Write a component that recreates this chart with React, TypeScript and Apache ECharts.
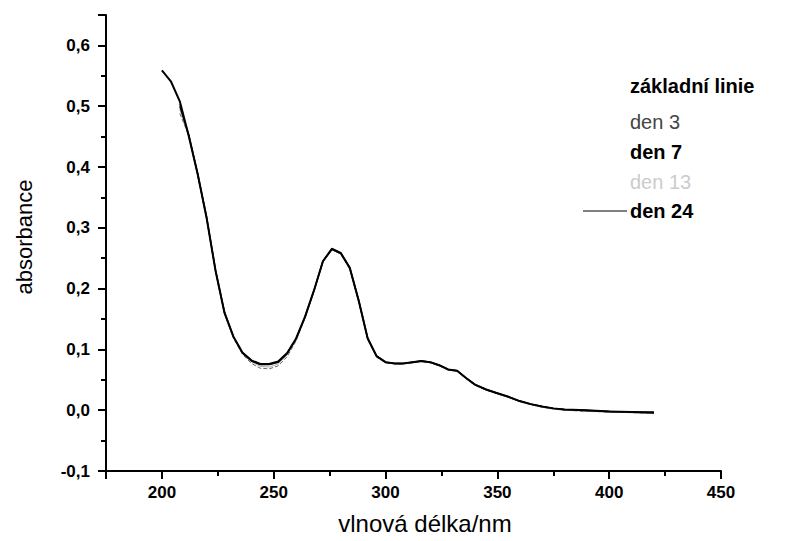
import React, { useEffect, useRef } from "react";
import * as echarts from "echarts";

const wavelengths = [200, 204, 208, 212, 216, 220, 224, 228, 232, 236, 240, 244, 248, 252, 256, 260, 264, 268, 272, 276, 280, 284, 288, 292, 296, 300, 304, 308, 312, 316, 320, 324, 328, 332, 336, 340, 345, 350, 355, 360, 365, 370, 375, 380, 390, 400, 410, 420];

const zakladniLinie = [0.559, 0.541, 0.508, 0.451, 0.388, 0.316, 0.229, 0.160, 0.121, 0.095, 0.082, 0.076, 0.076, 0.080, 0.094, 0.118, 0.154, 0.197, 0.245, 0.265, 0.258, 0.234, 0.180, 0.118, 0.089, 0.079, 0.077, 0.077, 0.079, 0.081, 0.079, 0.074, 0.067, 0.065, 0.053, 0.042, 0.034, 0.028, 0.022, 0.015, 0.010, 0.006, 0.003, 0.001, 0.000, -0.002, -0.003, -0.004];
const den3 = [null, null, 0.488, 0.452, 0.386, 0.314, 0.228, 0.158, 0.118, 0.092, 0.077, 0.069, 0.068, 0.073, 0.088, 0.114, 0.152, 0.196, 0.244, 0.264, 0.257, 0.232, 0.178, 0.117, 0.087, 0.078, 0.076, 0.076, 0.078, 0.080, 0.078, 0.073, 0.066, 0.064, 0.052, 0.041, 0.033, 0.027, 0.021, 0.014, 0.009, 0.005, 0.002, 0.000, -0.002, -0.003, -0.004, -0.005];
const den7 = [null, null, 0.500, 0.453, 0.389, 0.317, 0.230, 0.161, 0.120, 0.094, 0.081, 0.075, 0.075, 0.079, 0.093, 0.117, 0.153, 0.197, 0.245, 0.266, 0.259, 0.235, 0.181, 0.119, 0.089, 0.079, 0.077, 0.077, 0.079, 0.081, 0.079, 0.074, 0.067, 0.065, 0.053, 0.042, 0.034, 0.028, 0.022, 0.015, 0.010, 0.006, 0.003, 0.001, -0.001, -0.002, -0.003, -0.003];
const den13 = [null, null, 0.495, 0.450, 0.387, 0.315, 0.229, 0.160, 0.120, 0.094, 0.080, 0.072, 0.071, 0.076, 0.091, 0.116, 0.153, 0.196, 0.244, 0.264, 0.257, 0.233, 0.179, 0.118, 0.088, 0.078, 0.076, 0.076, 0.078, 0.080, 0.078, 0.073, 0.066, 0.064, 0.052, 0.041, 0.033, 0.027, 0.021, 0.014, 0.009, 0.005, 0.002, 0.000, -0.001, -0.003, -0.004, -0.005];
const den24 = [null, null, 0.503, 0.452, 0.388, 0.316, 0.229, 0.160, 0.121, 0.095, 0.081, 0.075, 0.075, 0.080, 0.094, 0.118, 0.154, 0.197, 0.245, 0.265, 0.258, 0.234, 0.180, 0.118, 0.089, 0.079, 0.077, 0.077, 0.079, 0.081, 0.079, 0.074, 0.067, 0.065, 0.053, 0.042, 0.034, 0.028, 0.022, 0.015, 0.010, 0.006, 0.003, 0.001, 0.000, -0.002, -0.003, -0.004];

const xLabels = [200, 250, 300, 350, 400, 450];
const xMinorTicks = [225, 275, 325, 375, 425];
const yLabels = [-0.1, 0, 0.1, 0.2, 0.3, 0.4, 0.5, 0.6];
const yMinorTicks = [-0.05, 0.05, 0.15, 0.25, 0.35, 0.45, 0.55];
const seriesNames = ["základní linie", "den 3", "den 7", "den 13", "den 24"];

const FONT = "'Liberation Sans', Arial, sans-serif";

function pairs(values: (number | null)[]) {
  const out: [number, number][] = [];
  values.forEach((v, i) => {
    if (v !== null) out.push([wavelengths[i], v]);
  });
  return out;
}

export default function App() {
  const ref = useRef<HTMLDivElement>(null);
  useEffect(() => {
    if (!ref.current) return;
    const chart = echarts.init(ref.current, null, { renderer: "svg" });
    const styles = [
      { color: "#000", width: 2 },
      { color: "#666", width: 1, type: "dashed" },
      { color: "#111", width: 1.5 },
      { color: "#aaa", width: 1 },
      { color: "#000", width: 1 },
    ];
    const dataSets = [zakladniLinie, den3, den7, den13, den24];
    const axisLineStyle = { color: "#000", width: 2 };
    const legendX = 630;
    const legendY = [86, 122, 152, 182, 211];
    const legendStyles = [
      { fontWeight: "bold", fill: "#000" },
      { fontWeight: "normal", fill: "#444" },
      { fontWeight: "bold", fill: "#000" },
      { fontWeight: "normal", fill: "#ccc" },
      { fontWeight: 900, fill: "#000" },
    ];
    const yMax = 0.65;
    chart.setOption({
      animation: false,
      grid: { left: 106, right: 70, top: 15, bottom: 70, containLabel: false },
      xAxis: [
        {
          type: "value",
          min: 175,
          max: 450,
          interval: 25,
          axisLine: { show: true, onZero: false, lineStyle: axisLineStyle },
          axisTick: { show: true, customValues: [175, ...xLabels], length: 8, lineStyle: { color: "#000", width: 2 } },
          axisLabel: { customValues: xLabels, color: "#000", fontFamily: FONT, fontWeight: "bold", fontSize: 17, margin: 13 },
          splitLine: { show: false },
        },
        {
          type: "value",
          min: 175,
          max: 450,
          interval: 25,
          position: "bottom",
          axisLine: { show: false, onZero: false },
          axisTick: { show: true, customValues: xMinorTicks, length: 5, lineStyle: { color: "#000", width: 2 } },
          axisLabel: { show: false },
          splitLine: { show: false },
        },
      ],
      yAxis: [
        {
          type: "value",
          min: -0.1,
          max: yMax,
          interval: 0.1,
          axisLine: { show: true, onZero: false, lineStyle: axisLineStyle },
          axisTick: { show: true, customValues: [...yLabels, yMax], length: 8, lineStyle: { color: "#000", width: 2 } },
          axisLabel: {
            customValues: yLabels,
            color: "#000",
            fontFamily: FONT,
            fontWeight: "bold",
            fontSize: 17,
            margin: 16,
            formatter: (v: number) => v.toFixed(1).replace(".", ","),
          },
          splitLine: { show: false },
        },
        {
          type: "value",
          min: -0.1,
          max: yMax,
          interval: 0.1,
          position: "left",
          axisLine: { show: false, onZero: false },
          axisTick: { show: true, customValues: yMinorTicks, length: 5, lineStyle: { color: "#000", width: 2 } },
          axisLabel: { show: false },
          splitLine: { show: false },
        },
      ],
      series: dataSets.map((d, i) => ({
        name: seriesNames[i],
        type: "line",
        xAxisIndex: 0,
        yAxisIndex: 0,
        data: pairs(d),
        showSymbol: false,
        symbol: "none",
        lineStyle: styles[i],
        z: 2 + (4 - i),
      })),
      graphic: [
        {
          type: "text",
          x: 425,
          y: 523,
          style: { text: "vlnová délka/nm", font: `24px ${FONT}`, fill: "#000", textAlign: "center", textVerticalAlign: "middle" },
        },
        {
          type: "text",
          x: 24,
          y: 237,
          rotation: Math.PI / 2,
          style: { text: "absorbance", font: `22px ${FONT}`, fill: "#000", textAlign: "center", textVerticalAlign: "middle" },
        },
        {
          type: "line",
          shape: { x1: 583, y1: 211, x2: 627, y2: 211 },
          style: { stroke: "#000", lineWidth: 1.2 },
        },
        ...seriesNames.map((n, i) => ({
          type: "text",
          x: legendX,
          y: legendY[i],
          style: {
            text: n,
            font: `${legendStyles[i].fontWeight} 20px ${FONT}`,
            fill: legendStyles[i].fill,
            textAlign: "left",
            textVerticalAlign: "middle",
          },
        })),
      ],
    });
    return () => chart.dispose();
  }, []);
  return <div ref={ref} style={{ position: "fixed", left: 0, top: 0, width: 791, height: 541, background: "#fff" }} />;
}
